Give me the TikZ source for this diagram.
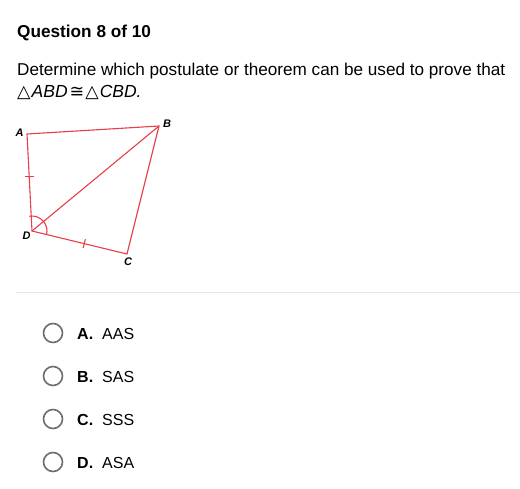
\documentclass[tikz,border=0pt]{standalone}
\usepackage{fontspec}
\usetikzlibrary{calc}
\setmainfont{Liberation Sans}
\newfontfamily\symfont{DejaVu Sans}
\definecolor{geored}{RGB}{232,62,72}
\definecolor{circgray}{RGB}{110,110,110}
\definecolor{sepgray}{RGB}{228,228,228}
\begin{document}
\begin{tikzpicture}[x=1pt,y=-1pt,
  seg/.style={draw=geored,line width=1.1pt},
  vlabel/.style={font=\fontsize{11}{12}\selectfont\bfseries\itshape,inner sep=0pt},
  optcirc/.style={draw=circgray,line width=1.6pt,circle,minimum size=19pt,inner sep=0pt},
  optletter/.style={font=\fontsize{16}{18}\selectfont\bfseries,anchor=base west,inner sep=0pt},
  opttext/.style={font=\fontsize{16}{18}\selectfont,anchor=base west,inner sep=0pt}]
\useasboundingbox (0,0) rectangle (520,488);
\fill[white] (0,0) rectangle (520,488);
% header
\node[anchor=base west,inner sep=0pt,font=\fontsize{17.2}{20}\selectfont\bfseries] (title) at (17,37) {Question 8 of 10};
\node[anchor=base west,inner sep=0pt,font=\fontsize{17.15}{20}\selectfont] (q1) at (17,75) {Determine which postulate or theorem can be used to prove that};
\node[anchor=base west,inner sep=0pt,font=\fontsize{17.5}{20}\selectfont] (q2) at (17,97) {{\symfont △}\kern1pt\textit{ABD}\kern2pt{\symfont ≅}\kern1pt{\symfont △}\kern1pt\textit{CBD.}};
% figure
\coordinate (A) at (27,134);
\coordinate (B) at (159,126);
\coordinate (D) at (32,231);
\coordinate (C) at (127,254);
\draw[seg] (A) -- (B) -- (C) -- (D) -- cycle;
\draw[seg] (D) -- (B);
\draw[seg] ($(A)!0.44!(D)$) ++(-4.5,0) -- ++(9,0);
\draw[seg] ($(D)!0.55!(C)$) ++(1.1,-4.4) -- ++(-2.2,8.8);
\draw[seg] (D) ++(-100:15) arc[start angle=-100,end angle=15,radius=15];
\node[vlabel] (lA) at (19.5,133) {A};
\node[vlabel] (lB) at (167,124) {B};
\node[vlabel] (lD) at (26.5,236) {D};
\node[vlabel] (lC) at (128,262) {C};
% separator
\draw[sepgray,line width=1pt] (16,292.5) -- (520,292.5);
% options
\foreach \y/\l/\t in {333/A/AAS,376/B/SAS,419/C/SSS,462/D/ASA}{
  \node[optcirc] (c\l) at (53,\y) {};
  \node[optletter] (o\l) at (77,\y+6) {\l.};
  \node[opttext] (t\l) at (102,\y+6) {\t};
}
\end{tikzpicture}
\end{document}
